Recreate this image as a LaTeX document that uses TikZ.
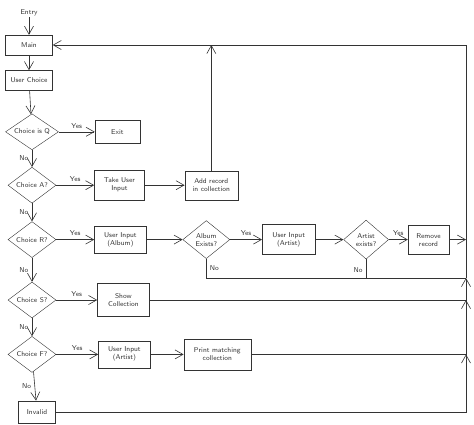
\documentclass[tikz,border=0pt]{standalone}
\usepackage{tikz}
\usetikzlibrary{positioning,shapes.geometric,arrows.meta}
\definecolor{ink}{HTML}{333333}

\begin{document}
\begin{tikzpicture}[x=1pt,y=-1pt,
  every node/.style={font=\sffamily\fontsize{7}{8}\selectfont, text=ink},
  process/.style={draw=ink, rectangle, align=center, minimum width=47pt, minimum height=20pt, inner sep=1pt},
  decision/.style={draw=ink, diamond, aspect=1.3, align=center, minimum width=48pt, minimum height=36pt, inner sep=0pt},
  flow/.style={draw=ink, line width=0.6pt, -{Straight Barb[length=8pt,width=9pt]}},
  link/.style={draw=ink, line width=0.6pt}]
  \useasboundingbox (0,0) rectangle (474,424);
  % Define nodes
  \node[process] (main) at (29,45) {Main};
  \node[above=18pt of main, inner sep=1pt] (entry) {Entry};
  \node[process, below=15pt of main] (userchoice) {User Choice};
  \node[decision, below=23pt of userchoice, xshift=3pt, minimum width=53pt] (choiceQ) {Choice is Q};
  \node[decision, below=17pt of choiceQ] (choiceA) {Choice A?};
  \node[decision, below=18pt of choiceA] (choiceR) {Choice R?};
  \node[decision, below=24pt of choiceR] (choiceS) {Choice S?};
  \node[decision, below=18pt of choiceS] (choiceF) {Choice F?};
  \node[process, below=28pt of choiceF, xshift=5pt, minimum width=37pt, minimum height=22pt] (invalid) {Invalid};
  % Define branches
  \node[process, right=36pt of choiceQ, minimum width=45pt, minimum height=23pt] (exit) {Exit};
  \node[process, right=38pt of choiceA, minimum width=50pt, minimum height=30pt] (takeinput) {Take User\\Input};
  \node[process, right=40pt of takeinput, minimum width=53pt, minimum height=29pt] (addrecord) {Add record\\in collection};
  \node[process, right=38pt of choiceR, minimum width=52pt, minimum height=27pt] (albuminput) {User Input\\(Album)};
  \node[decision, right=36pt of albuminput, minimum width=47pt, minimum height=38pt] (albumexists) {Album\\Exists?};
  \node[process, right=32pt of albumexists, minimum width=53pt, minimum height=30pt] (artistinput) {User Input\\(Artist)};
  \node[decision, right=28pt of artistinput, minimum width=45pt, minimum height=39pt] (artistexists) {Artist\\exists?};
  \node[process, right=19pt of artistexists, minimum width=41pt, minimum height=29pt] (removerecord) {Remove\\record};
  \node[process, right=41pt of choiceS, minimum width=52pt, minimum height=33pt] (showcoll) {Show\\Collection};
  \node[process, right=42pt of choiceF, minimum width=52pt, minimum height=27pt] (artistinput2) {User Input\\(Artist)};
  \node[process, right=33pt of artistinput2, minimum width=67pt, minimum height=31pt] (printmatch) {Print matching\\collection};
  % Define return rail
  \coordinate (rail) at (466,45);
  \coordinate (nojoin) at (466,278);
  % Define edges
  \draw[flow] (entry) -- (main);
  \draw[flow] (main) -- (userchoice);
  \draw[flow] (userchoice) -- (choiceQ);
  \draw[flow] (choiceQ) -- node[left] {No} (choiceA);
  \draw[flow] (choiceA) -- node[left] {No} (choiceR);
  \draw[flow] (choiceR) -- node[left] {No} (choiceS);
  \draw[flow] (choiceS) -- node[left] {No} (choiceF);
  \draw[flow] (choiceF) -- node[left] {No} (invalid);
  \draw[flow] (choiceQ) -- node[above] {Yes} (exit);
  \draw[flow] (choiceA) -- node[above] {Yes} (takeinput);
  \draw[flow] (takeinput) -- (addrecord);
  \draw[flow] (choiceR) -- node[above] {Yes} (albuminput);
  \draw[flow] (albuminput) -- (albumexists);
  \draw[flow] (albumexists) -- node[above] {Yes} (artistinput);
  \draw[flow] (artistinput) -- (artistexists);
  \draw[flow] (artistexists) -- node[above] {Yes} (removerecord);
  \draw[flow] (choiceS) -- node[above] {Yes} (showcoll);
  \draw[flow] (choiceF) -- node[above] {Yes} (artistinput2);
  \draw[flow] (artistinput2) -- (printmatch);
  % Define return edges
  \draw[flow] (addrecord) -- (addrecord.north |- rail);
  \draw[flow] (removerecord) -- (removerecord -| rail);
  \draw[link] (artistexists) -- node[left, pos=0.6] {No} (artistexists.south |- nojoin);
  \draw[link] (albumexists.south) |- node[right, pos=0.25] {No} (nojoin);
  \draw[flow] (showcoll) -- (showcoll -| rail) -- (nojoin);
  \draw[flow] (printmatch) -- (printmatch -| rail) -- (showcoll -| rail);
  \draw[flow] (invalid) -- (invalid -| rail) -- (printmatch -| rail);
  \draw[flow] (nojoin) -- (rail) -- (main);
\end{tikzpicture}
\end{document}
